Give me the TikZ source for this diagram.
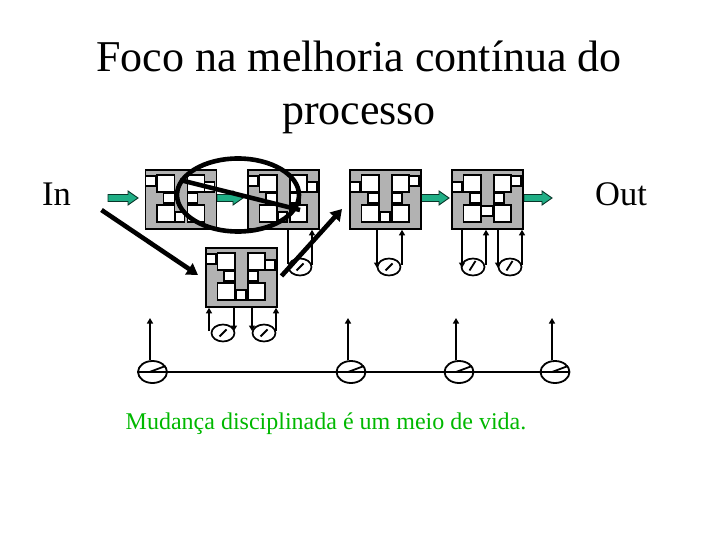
\documentclass[tikz,border=0pt]{standalone}
\usepackage{fontspec}
\setmainfont{Liberation Serif}
\usetikzlibrary{arrows.meta,shapes.geometric,calc}
\definecolor{blockgray}{HTML}{B2B2B2}
\definecolor{flowgreen}{HTML}{1FAE85}
\definecolor{capgreen}{HTML}{00B800}
\tikzset{
  x=1pt,y=-1pt,
  block/.style={draw=black,line width=1.8pt,fill=blockgray,minimum width=71pt,minimum height=59pt,inner sep=0pt,anchor=north west},
  cell/.style={draw=black,line width=1.9pt,fill=white},
  sig/.style={draw=black,line width=1.6pt,-{Triangle[length=5.5pt,width=6pt]}},
  wire/.style={draw=black,line width=1.6pt},
  gauge/.style={ellipse,draw=black,line width=1.7pt,fill=white,inner sep=0pt,minimum width=23pt,minimum height=17pt},
  biggauge/.style={ellipse,draw=black,line width=1.8pt,fill=white,inner sep=0pt,minimum width=29pt,minimum height=22pt},
  needle/.style={draw=black,line width=1.8pt},
  bigarrow/.style={draw=black,line width=4.6pt,-{Triangle[length=11pt,width=13pt]}},
  flow/.style={draw=black!70!flowgreen,line width=0.9pt,fill=flowgreen},
  title/.style={font=\fontsize{44}{44}\selectfont,anchor=base,inner sep=0pt},
  side/.style={font=\fontsize{34.5}{34.5}\selectfont,anchor=base,inner sep=0pt},
  caption/.style={font=\fontsize{24}{24}\selectfont,text=capgreen,anchor=base,inner sep=0pt}
}
% name, x, y, left-cell y, right-cell y, centre x, centre y, centre width, centre height
\newcommand{\pblock}[9]{%
  \node[block] (#1) at (#2,#3) {};
  \begin{scope}[shift={(#2,#3)}]
    \draw[cell] (1,#4) rectangle (11,#4+10);
    \draw[cell] (12.5,6) rectangle (30,23);
    \draw[cell] (19,24) rectangle (30,34);
    \draw[cell] (12.5,36) rectangle (30,53);
    \draw[cell] (43,6) rectangle (60,23);
    \draw[cell] (60,#5) rectangle (70,#5+10);
    \draw[cell] (43,24) rectangle (53,34);
    \draw[cell] (43,36) rectangle (60,53);
    \draw[cell] (#6,#7) rectangle (#6+#8,#7+#9);
  \end{scope}}
\newcommand{\pflow}[3]{%
  \draw[flow] (#1,#3-3.5) -- (#2-10,#3-3.5) -- (#2-10,#3-7) -- (#2,#3) -- (#2-10,#3+7) -- (#2-10,#3+3.5) -- (#1,#3+3.5) -- cycle;}
\newcommand{\pgauge}[5]{%
  \node[gauge] (#1) at (#2,#3) {};
  \draw[needle] ($(#1.center)+(-3.5,3.5)$) -- ($(#1.center)+(#4,#5)$);}
\begin{document}
\begin{tikzpicture}
\useasboundingbox (0,0) rectangle (720,540);
\node[title] (t1) at (359,72) {Foco na melhoria contínua do};
\node[title] (t2) at (359,125) {processo};
\node[side] (in) at (56.5,206) {In};
\node[side] (out) at (621,206) {Out};
\node[caption] (cap) at (326,429) {Mudança disciplinada é um meio de vida.};

\pflow{108}{138}{198}
\pflow{217}{243}{198}
\pflow{421.5}{449}{198}
\pflow{524}{552}{198}

\pblock{b1}{144.5}{169}{7}{13}{31}{43}{9}{10}
\pblock{b2}{247}{169}{7}{13}{31}{43}{9}{10}
\pblock{b3}{349}{169}{13}{7}{31}{43}{10}{10}
\pblock{b4}{451}{169}{13}{7}{30}{37}{12}{10}
\pblock{b5}{205}{247}{7}{13}{31}{43}{10}{10}

% local gauges
\pgauge{g1}{300}{267}{3.5}{-3.5}
\pgauge{g2}{389}{267}{3.5}{-3.5}
\pgauge{g3}{473}{267}{2.5}{-6}
\pgauge{g4}{510}{267}{2.5}{-6}
\pgauge{g5}{223}{333}{3.5}{-3.5}
\pgauge{g6}{264}{333}{3.5}{-3.5}

\coordinate (d1) at (288,264); \draw[wire] (b2.south -| d1) -- (d1);
\coordinate (u1) at (312,265); \draw[sig] (u1) -- (u1 |- b2.south);
\coordinate (d2) at (377,268); \draw[sig] (b3.south -| d2) -- (d2);
\coordinate (u2) at (402,265); \draw[sig] (u2) -- (u2 |- b3.south);
\coordinate (d3) at (462,268); \draw[sig] (b4.south -| d3) -- (d3);
\coordinate (u3) at (486,265); \draw[sig] (u3) -- (u3 |- b4.south);
\coordinate (d4) at (498,268); \draw[sig] (b4.south -| d4) -- (d4);
\coordinate (u4) at (522,265); \draw[sig] (u4) -- (u4 |- b4.south);
\coordinate (d5) at (234,331); \draw[sig] (b5.south -| d5) -- (d5);
\coordinate (u5) at (209,331); \draw[sig] (u5) -- (u5 |- b5.south);
\coordinate (d6) at (252,331); \draw[sig] (b5.south -| d6) -- (d6);
\coordinate (u6) at (276,331); \draw[sig] (u6) -- (u6 |- b5.south);

% measurement line
\node[biggauge] (m1) at (152.5,372) {};
\node[biggauge] (m2) at (351,372) {};
\node[biggauge] (m3) at (459,372) {};
\node[biggauge] (m4) at (555,372) {};
\draw[wire] (m1.west) -- (m4.east);
\foreach \m/\tx in {m1/150,m2/348,m3/456,m4/552}{
  \coordinate (top\m) at (\tx,318);
  \draw[sig] (top\m |- \m.north) -- (top\m);
  \draw[needle] ($(\m.center)+(-3,0)$) -- ($(\m.center)+(13,-6)$);
}

% overlays
\node[ellipse,draw=black,line width=4.6pt,inner sep=0pt,minimum width=122pt,minimum height=73pt] (focus) at (238,195) {};
\coordinate (p0) at (180,180);
\coordinate (p1) at (300,210);
\draw[draw=black,line width=4.6pt] (p0) -- (p1);
\coordinate (a0) at (101.5,210);
\coordinate (a1) at (198,275);
\draw[bigarrow] (a0) -- (a1);
\coordinate (c0) at (281.5,276);
\coordinate (c1) at (342,209);
\draw[bigarrow] (c0) -- (c1);
\end{tikzpicture}
\end{document}
